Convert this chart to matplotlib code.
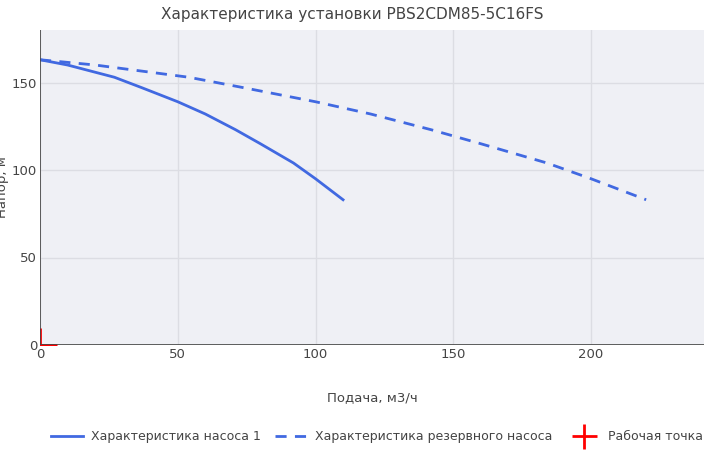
import matplotlib.pyplot as plt
from matplotlib.lines import Line2D

# main pump curve
q1 = [0, 10, 27, 37, 50, 60, 71, 80, 92, 100, 110]
h1 = [163, 160, 153, 147, 139, 132, 123, 115, 104, 95, 83]
# reserve pump curve
q2 = [0, 20, 54, 74, 100, 120, 142, 160, 184, 200, 220]
h2 = [163, 160, 153, 147, 139, 132, 123, 115, 104, 95, 83]
# working point
qw = [0]
hw = [0]

blue = '#4169E1'
fig = plt.figure(figsize=(7.04, 4.5), dpi=100)
ax = fig.add_axes([40 / 704, 105 / 450, 664 / 704, 315 / 450])
ax.set_facecolor('#eff0f5')
ax.plot(q1, h1, color=blue, lw=2)
ax.plot(q2, h2, color=blue, lw=2, ls=(0, (4, 3)))
ax.plot(qw, hw, '+', color='red', ms=24, mew=2, clip_on=True)

ax.set_xlim(0, 241)
ax.set_ylim(0, 180)
ax.set_xticks([0, 50, 100, 150, 200])
ax.set_yticks([0, 50, 100, 150])
ax.grid(color='#dcdde3', lw=1)
ax.set_axisbelow(True)
for s in ax.spines.values():
    s.set_visible(False)
ax.axhline(0, color='#444444', lw=1.2)
ax.axvline(0, color='#444444', lw=1.2)
ax.tick_params(length=0, labelsize=9.5, colors='#444444', pad=2)
ax.set_xlabel('Подача, м3/ч', fontsize=9.5, color='#444444', labelpad=22)
ax.set_ylabel('Напор, м', fontsize=9.5, color='#444444', labelpad=2)
fig.suptitle('Характеристика установки PBS2CDM85-5C16FS', fontsize=11, color='#444444', y=0.985)

handles = [Line2D([], [], color=blue, lw=2),
           Line2D([], [], color=blue, lw=2, ls=(0, (4, 3))),
           Line2D([], [], color='red', marker='+', ls='', ms=18, mew=2)]
labels = ['Характеристика насоса 1', 'Характеристика резервного насоса', 'Рабочая точка']
fig.legend(handles, labels, loc='center', bbox_to_anchor=(0.535, 0.03), ncol=3,
           frameon=False, fontsize=9, handlelength=2.6, columnspacing=1.2,
           handletextpad=0.6, labelcolor='#444444')
fig.savefig('out.png', dpi=100)
